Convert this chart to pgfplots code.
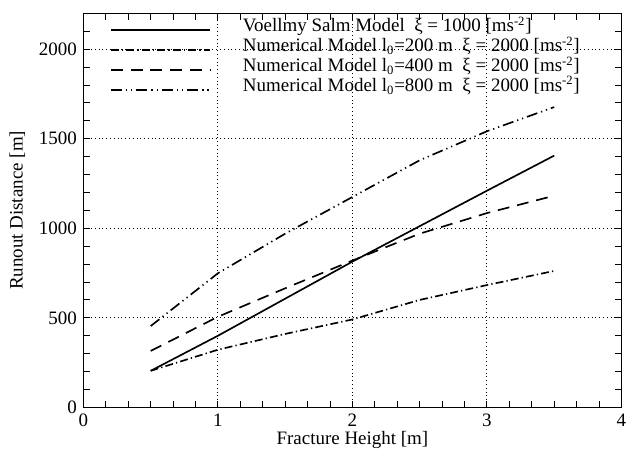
\documentclass[border=0pt,12pt]{standalone}
\usepackage{fontspec}
\setmainfont{Liberation Serif}
\usepackage{pgfplots}
\pgfplotsset{compat=1.18}
\begin{document}
\begin{tikzpicture}
\path[use as bounding box] (-52.8pt,-29.6pt) rectangle (344pt,257.8pt);
\begin{axis}[
  at={(0,0)}, anchor=south west,
  scale only axis, width=340.5pt, height=249.3pt,
  xmin=0, xmax=4, ymin=0, ymax=2200,
  xtick={0,1,2,3,4}, ytick={0,500,1000,1500,2000},
  minor xtick={0.1667,0.3333,0.5,0.6667,0.8333,1.1667,1.3333,1.5,1.6667,1.8333,2.1667,2.3333,2.5,2.6667,2.8333,3.1667,3.3333,3.5,3.6667,3.8333},
  minor ytick={100,200,300,400,600,700,800,900,1100,1200,1300,1400,1600,1700,1800,1900,2100},
  grid=major, major grid style={dotted, black, line width=0.6pt},
  tick style={black, line width=0.6pt}, major tick length=4pt, minor tick length=4pt,
  axis line style={line width=0.7pt},
  /pgf/number format/assume math mode=true,
  /pgf/number format/1000 sep={},
  scaled ticks=false,
  tick label style={font=\fontsize{12}{14}\selectfont},
  label style={font=\fontsize{12}{14}\selectfont},
  xlabel={Fracture Height [m]}, ylabel={Runout Distance [m]},
  xlabel style={at={(axis description cs:0.5,-0.083)}, anchor=center},
  ylabel style={at={(axis description cs:-0.123,0.5)}, anchor=center},
  legend cell align=left,
  legend image code/.code={\draw[#1] (0pt,-1.7pt) -- (63pt,-1.7pt);},
  legend style={at={(rel axis cs:0.049,0.988)}, anchor=north west, draw=none, fill=none,
    inner sep=0pt, row sep=1.15pt, column sep=19.5pt,
    font=\fontsize{12}{13}\selectfont,
    nodes={inner sep=0.5pt, text height=8pt, text depth=2.5pt}},
]
\addplot[black, line width=1.05pt] coordinates {(0.5,204) (1,400) (2,814) (3,1210) (3.5,1406)};
\addlegendentry{Voellmy Salm Model\ \ ξ = 1000 [ms\textsuperscript{-2}]}
\addplot[black, line width=1.05pt, dash pattern=on 5pt off 2pt on 0.8pt off 2pt] coordinates {(0.5,204) (1,322) (1.5,410) (2,491) (2.5,600) (3,683) (3.5,762)};
\addlegendentry{Numerical Model l\textsubscript{0}=200 m\ \ ξ = 2000 [ms\textsuperscript{-2}]}
\addplot[black, line width=1.05pt, dash pattern=on 7.5pt off 5pt] coordinates {(0.5,315) (1,506) (1.5,665) (2,820) (2.5,970) (3,1085) (3.5,1182)};
\addlegendentry{Numerical Model l\textsubscript{0}=400 m\ \ ξ = 2000 [ms\textsuperscript{-2}]}
\addplot[black, line width=1.05pt, dash pattern=on 7pt off 2.5pt on 0.8pt off 2.5pt on 0.8pt off 2.5pt] coordinates {(0.5,454) (1,749) (1.5,970) (2,1175) (2.5,1380) (3,1542) (3.5,1677)};
\addlegendentry{Numerical Model l\textsubscript{0}=800 m\ \ ξ = 2000 [ms\textsuperscript{-2}]}
\end{axis}
\end{tikzpicture}
\end{document}
